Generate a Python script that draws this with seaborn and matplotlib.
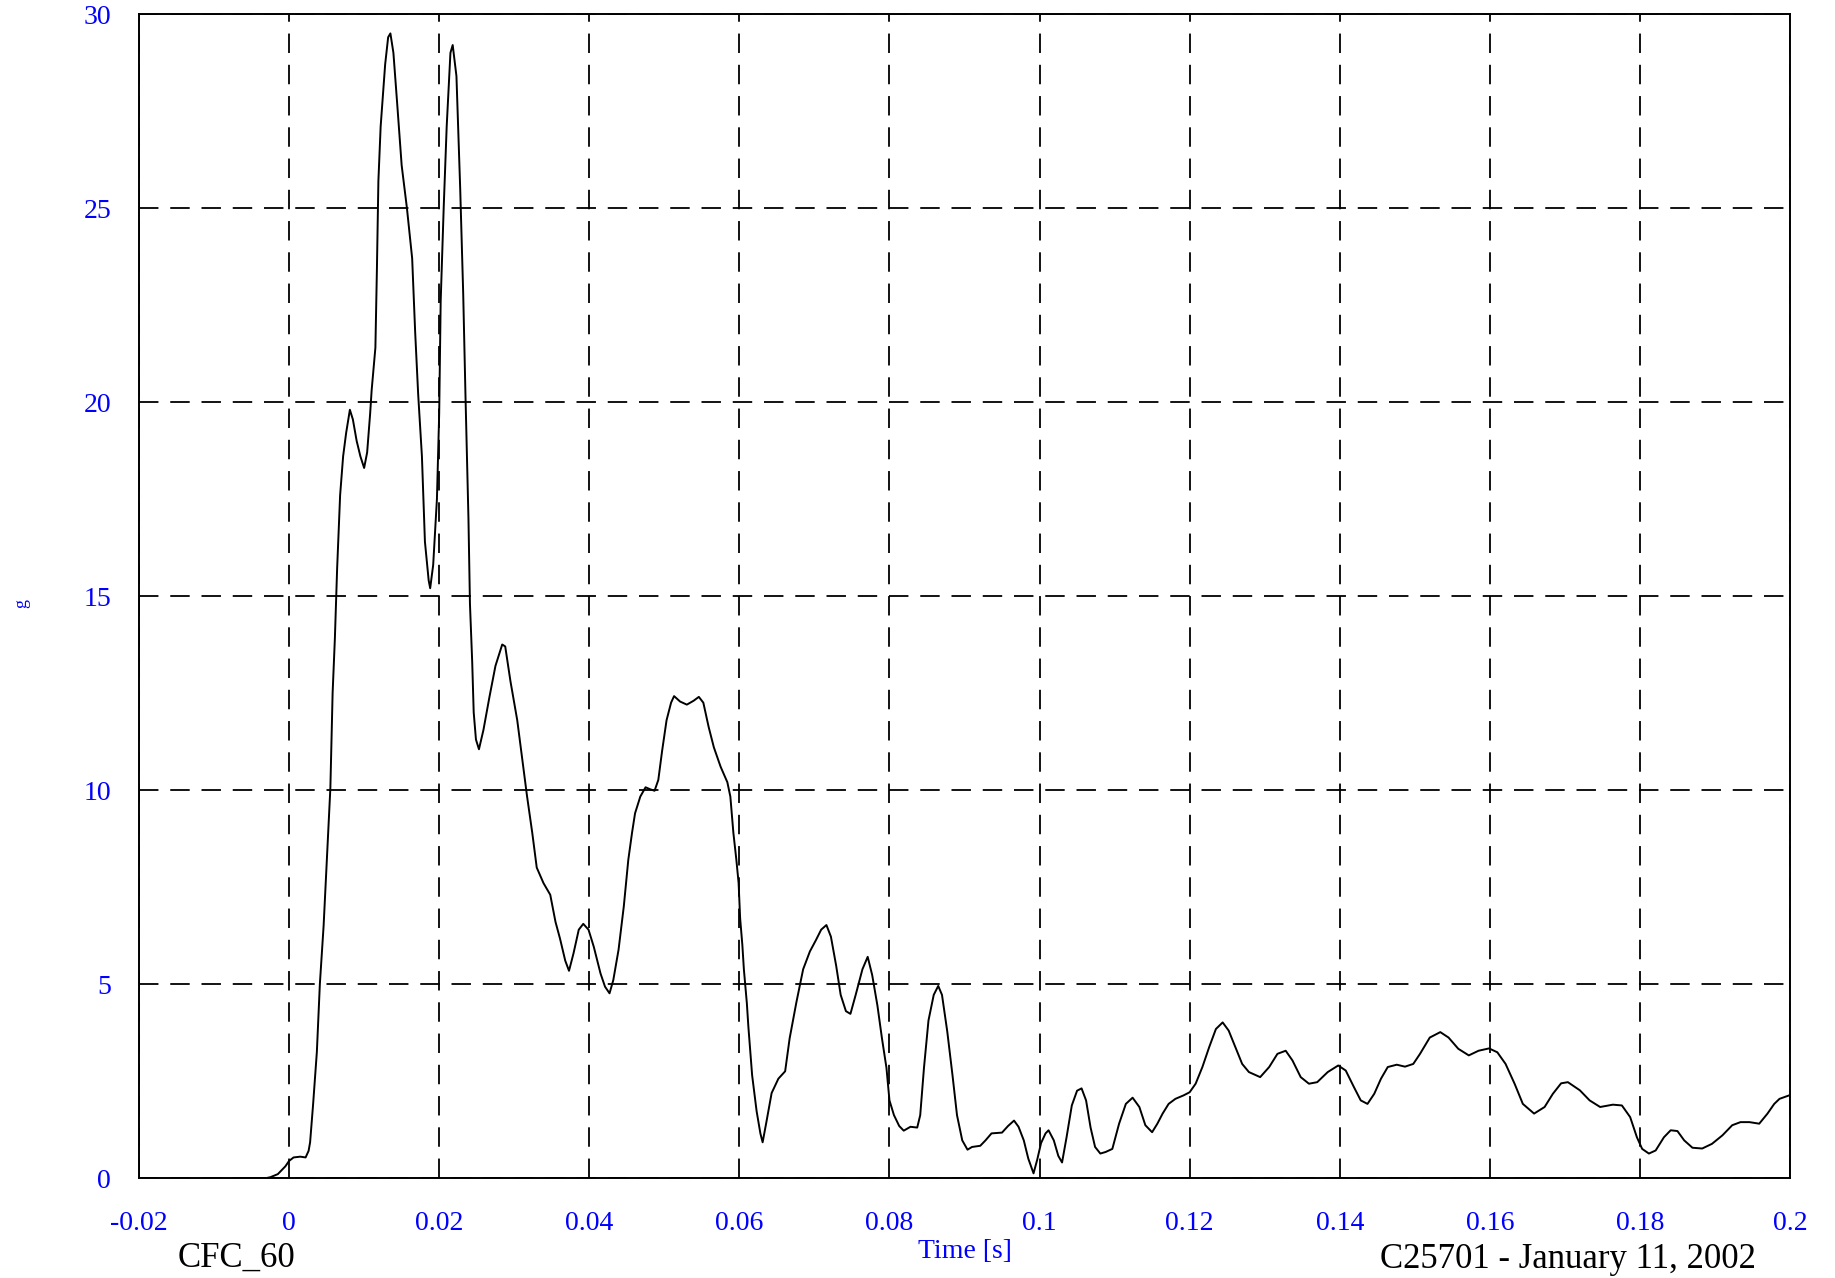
import numpy as np
import pandas as pd
import seaborn as sns
import matplotlib.pyplot as plt
from matplotlib.ticker import MultipleLocator, FixedLocator

# ==========================================
# 1. DATA (time in ms)
# ==========================================
time_ms = [
    -5.0, -3.0, -2.5, -1.5, -0.5, 0.0, 0.6, 1.5, 2.2, 2.6, 2.8, 3.2, 3.7, 4.1, 4.6,
    5.0, 5.5, 5.8, 6.1, 6.4, 6.8, 7.2, 7.6, 8.1, 8.5, 9.0, 9.5, 10.0, 10.4, 10.8,
    11.0, 11.5, 11.7, 11.9, 12.2, 12.8, 13.2, 13.5, 13.9, 14.4, 15.0, 15.7, 16.4,
    16.8, 17.2, 17.7, 18.1, 18.6, 18.8, 19.2, 19.7, 20.0, 20.2, 20.6, 21.0, 21.5,
    21.8, 22.3, 22.8, 23.2, 23.5, 23.9, 24.1, 24.4, 24.6, 24.9, 25.3, 25.9, 26.7,
    27.5, 28.4, 28.8, 29.5, 30.4, 31.0, 31.7, 32.4, 33.0, 33.9, 34.8, 35.5, 36.1,
    36.8, 37.3, 37.9, 38.6, 39.2, 39.9, 40.6, 41.5, 42.1, 42.7, 43.2, 43.9, 44.6,
    45.2, 45.7, 46.1, 46.8, 47.5, 48.1, 48.7, 49.2, 49.7, 50.3, 50.9, 51.3, 52.1,
    53.0, 53.9, 54.6, 55.2, 55.9, 56.6, 57.5, 58.4, 58.8, 59.2, 59.6, 59.9, 60.1,
    60.4, 60.6, 61.0, 61.2, 61.7, 62.3, 62.8, 63.1, 63.6, 64.3, 65.2, 66.1, 66.7,
    67.6, 68.5, 69.4, 70.2, 70.9, 71.6, 72.2, 72.9, 73.5, 74.2, 74.8, 75.5, 76.4,
    77.1, 77.7, 78.4, 79.0, 79.6, 80.0, 80.6, 81.3, 81.9, 82.8, 83.7, 84.1, 84.6,
    85.2, 85.9, 86.5, 87.0, 87.7, 88.4, 89.0, 89.7, 90.4, 91.0, 92.1, 92.8, 93.6,
    95.0, 95.8, 96.6, 97.2, 97.9, 98.5, 99.2, 99.7, 100.2, 100.8, 101.2, 101.9,
    102.5, 103.0, 103.6, 104.3, 105.0, 105.6, 106.2, 106.8, 107.4, 108.1, 108.8,
    109.7, 110.6, 111.5, 112.4, 113.3, 114.1, 115.0, 115.7, 116.4, 117.2, 118.1,
    119.2, 120.0, 120.8, 121.7, 122.6, 123.5, 124.4, 125.2, 126.1, 127.0, 127.9,
    129.4, 130.6, 131.7, 132.8, 133.7, 134.8, 135.9, 137.0, 138.4, 139.8, 140.8,
    141.9, 142.8, 143.7, 144.6, 145.5, 146.4, 147.6, 148.7, 149.8, 150.7, 152.0,
    153.4, 154.5, 155.8, 157.2, 158.5, 159.9, 161.0, 162.1, 163.3, 164.4, 165.9,
    167.3, 168.4, 169.5, 170.4, 172.0, 173.3, 174.7, 176.4, 177.6, 178.7, 179.6,
    180.3, 181.2, 182.1, 183.2, 184.1, 185.0, 185.9, 187.0, 188.3, 189.6, 191.0,
    192.3, 193.4, 194.6, 195.9, 197.0, 197.9, 198.6, 199.9, 200.0,
]
accel_g = [
    0.0, 0.0, 0.02, 0.1, 0.3, 0.44, 0.53, 0.55, 0.53, 0.7, 0.92, 1.9, 3.25, 5.0, 6.5,
    8.1, 10.05, 12.5, 13.9, 15.7, 17.6, 18.6, 19.2, 19.8, 19.55, 19.0, 18.6, 18.3, 18.7, 19.7,
    20.3, 21.4, 23.4, 25.7, 27.1, 28.7, 29.4, 29.5, 29.0, 27.7, 26.1, 25.0, 23.7,
    21.8, 20.2, 18.6, 16.4, 15.4, 15.2, 15.8, 17.5, 19.7, 22.6, 25.0, 27.1, 29.0,
    29.2, 28.4, 25.5, 22.8, 20.2, 17.0, 14.8, 13.3, 12.0, 11.3, 11.05, 11.55, 12.4,
    13.2, 13.75, 13.7, 12.8, 11.8, 10.9, 9.85, 8.9, 8.0, 7.6, 7.3, 6.6, 6.17,
    5.6, 5.34, 5.79, 6.4, 6.55, 6.4, 5.96, 5.27, 4.93, 4.76, 5.1, 5.88, 7.0,
    8.2, 8.9, 9.4, 9.83, 10.07, 10.02, 9.98, 10.26, 11.0, 11.8, 12.25, 12.42, 12.28,
    12.2, 12.3, 12.4, 12.25, 11.63, 11.1, 10.6, 10.2, 9.83, 8.9, 8.2, 7.6, 6.7,
    6.0, 5.38, 4.5, 3.9, 2.65, 1.72, 1.15, 0.92, 1.44, 2.19, 2.56, 2.75, 3.6,
    4.53, 5.38, 5.84, 6.13, 6.4, 6.52, 6.22, 5.47, 4.72, 4.3, 4.23, 4.72, 5.38,
    5.7, 5.23, 4.44, 3.6, 2.84, 2.0, 1.62, 1.34, 1.22, 1.32, 1.3, 1.62, 2.84,
    4.06, 4.72, 4.95, 4.72, 3.78, 2.65, 1.62, 0.97, 0.73, 0.8, 0.83, 0.97, 1.15,
    1.17, 1.34, 1.48, 1.32, 0.97, 0.5, 0.12, 0.48, 0.9, 1.15, 1.23, 0.97,
    0.57, 0.4, 1.05, 1.87, 2.25, 2.31, 2.0, 1.3, 0.8, 0.63, 0.67,
    0.75, 1.4, 1.91, 2.07, 1.83, 1.36, 1.18, 1.4, 1.66, 1.91, 2.04,
    2.13, 2.21, 2.43, 2.86, 3.37, 3.84, 4.01, 3.8, 3.37, 2.94, 2.73,
    2.6, 2.86, 3.2, 3.28, 3.03, 2.6, 2.43, 2.47, 2.73, 2.9, 2.77,
    2.34, 2.0, 1.91, 2.17, 2.56, 2.86, 2.92, 2.87, 2.94, 3.2, 3.62,
    3.76, 3.62, 3.33, 3.16, 3.28, 3.34, 3.24, 2.94, 2.43, 1.91, 1.66,
    1.83, 2.17, 2.44, 2.47, 2.26, 2.0, 1.83, 1.89, 1.87, 1.57, 1.05,
    0.75, 0.63, 0.71, 1.05, 1.23, 1.21, 0.97, 0.78, 0.76, 0.88, 1.1,
    1.36, 1.44, 1.44, 1.4, 1.66, 1.91, 2.04, 2.13, 2.14,
]

x_ticks = [-0.02, 0, 0.02, 0.04, 0.06, 0.08, 0.1, 0.12, 0.14, 0.16, 0.18, 0.2]
x_tick_labels = ['-0.02', '0', '0.02', '0.04', '0.06', '0.08', '0.1',
                 '0.12', '0.14', '0.16', '0.18', '0.2']
y_ticks = [0, 5, 10, 15, 20, 25, 30]
y_tick_labels = ['0', '5', '10', '15', '20', '25', '30']

df = pd.DataFrame({'time': np.array(time_ms) / 1000.0, 'g': accel_g})

# ==========================================
# 2. STYLING
# ==========================================
sns.set_style('white')
plt.rcParams.update({
    'font.family': ['Liberation Serif', 'DejaVu Serif'],
    'axes.unicode_minus': False,
    'lines.scale_dashes': False,
    'axes.edgecolor': 'black', 'axes.linewidth': 1.4,
})
tick_blue = '#0000ff'

W, H = 1835, 1278
fig = plt.figure(figsize=(W / 100, H / 100), dpi=100)
# axes box in pixels: x 139..1790, y 14..1178
ax = fig.add_axes([139 / W, 1 - 1178 / H, (1790 - 139) / W, (1178 - 14) / H])

sns.lineplot(data=df, x='time', y='g', color='black', linewidth=1.4,
             estimator=None, ax=ax, zorder=3)

ax.set_xlim(-0.02, 0.2)
ax.set_ylim(0, 30)
ax.xaxis.set_major_locator(FixedLocator(x_ticks))
ax.set_xticklabels(x_tick_labels)
ax.yaxis.set_major_locator(FixedLocator(y_ticks))
ax.set_yticklabels(y_tick_labels)
ax.xaxis.set_minor_locator(MultipleLocator(0.01))
ax.yaxis.set_minor_locator(MultipleLocator(2.5))

ax.tick_params(which='major', direction='out', length=14, width=1.4,
               color='black', labelcolor=tick_blue, labelsize=20)
ax.tick_params(axis='x', which='major', pad=10)
ax.tick_params(axis='y', which='major', pad=6)
ax.tick_params(which='minor', direction='inout', length=15, width=1.4, color='black')

ax.grid(True, which='major', color='black', linestyle=(0, (14, 8.5)), linewidth=1.3)
ax.set_axisbelow(True)
for s in ax.spines.values():
    s.set_visible(True)
    s.set_color('black')
    s.set_linewidth(1.4)

ax.set_xlabel('')
ax.set_ylabel('')

# ==========================================
# 3. ANNOTATIONS
# ==========================================
fig.text(964.5 / W, 1 - 1252 / H, 'Time [s]', color=tick_blue, fontsize=20,
         ha='center', va='center')
fig.text(22 / W, 1 - 603 / H, 'g', color=tick_blue, fontsize=13,
         rotation=90, ha='center', va='center')
fig.text(236 / W, 1 - 1258 / H, 'CFC_60', color='black', fontsize=25,
         ha='center', va='center')
fig.text(1568 / W, 1 - 1259 / H, 'C25701 - January 11, 2002', color='black',
         fontsize=25, ha='center', va='center')

plt.savefig('out.png', dpi=100)
